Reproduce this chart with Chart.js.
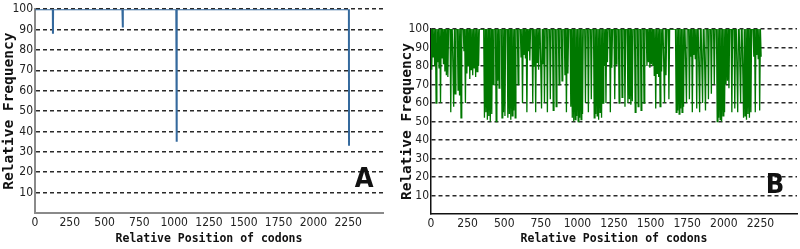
<!DOCTYPE html>
<html lang="en">
<head>
<meta charset="UTF-8">
<title>Relative frequency of codons</title>
<style>
  body { margin: 0; background: #fff; }
  .wrap { display: flex; width: 800px; height: 249px; }
  canvas { display: block; }
</style>
</head>
<body>
<div class="wrap">
  <canvas id="chartA" width="400" height="249"></canvas>
  <canvas id="chartB" width="400" height="249"></canvas>
</div>
<script src="https://cdn.jsdelivr.net/npm/chart.js@4.4.0/dist/chart.umd.min.js"></script>
<script>
var xTicks = [0, 250, 500, 750, 1000, 1250, 1500, 1750, 2000, 2250];
var yTicks = [10, 20, 30, 40, 50, 60, 70, 80, 90, 100];
var xTitle = 'Relative Position of codons';
var yTitle = 'Relative Frequency';

// panel A: flat at 100 with a few drops
var posA  = [0,   128, 129, 130, 628, 630, 632, 1015, 1016, 1018, 1020, 2255, 2256];
var freqA = [100, 100, 88,  100, 100, 91,  100, 100,  67,   35,   100,  100,  33];

// panel B: lowest value in each 10-codon window (100 = no drop)
var binB = 10;
var dipsB = [
  78, 85, 80, 60, 82, 79, 60, 84, 81, 77,
  75, 74,
  100, 55, 100, 58,
  65, 100, 67, 64,
  52, 100, 88, 60,
  76, 80, 73, 78, 75, 79, 74, 77, 80,
  100, 100, 100,
  52, 55, 51, 53, 50, 54,
  70, 100, 50, 72, 68, 100, 52,
  55, 53, 100, 52, 54, 51, 53, 56, 52,
  100, 70, 100,
  85, 60, 86, 84, 55, 88, 83, 100, 60,
  80, 55, 82, 78, 100, 57, 81,
  60, 100, 55, 100, 62, 100, 56, 100, 58,
  100, 70, 100, 72, 100,
  75, 55, 76, 100, 58,
  52, 50, 51, 53, 50, 52, 51, 54,
  100, 60, 100, 55, 100, 62, 100,
  52, 54, 53, 51, 55, 52, 60,
  80, 60, 82, 100, 55, 79, 100, 62, 81,
  100, 60, 100, 63, 100, 58, 100,
  60, 62, 59, 61,
  100, 55, 100, 58, 100, 56, 100, 60, 100,
  80, 82, 79, 81, 80,
  75, 57, 76, 74, 58, 77, 100, 60, 75,
  100, 62, 100,
  100, 100, 100,
  55, 56, 54, 57, 55, 58,
  100, 60, 100, 62,
  85, 55, 86, 84, 57,
  100, 55, 100, 60, 100, 56, 100, 62, 100,
  65, 100, 70, 100,
  50, 52, 51, 50, 53, 55,
  70, 72, 68,
  100, 55, 100, 57, 100, 55, 100, 60, 100,
  52, 53, 51, 54, 52, 55,
  100,
  85, 55, 86, 84, 56, 85
];

var pointsA = posA.map(function (p, i) { return { x: p, y: freqA[i] }; });
var pointsB = [];
dipsB.forEach(function (d, i) {
  pointsB.push({ x: i * binB, y: 100 });
  pointsB.push({ x: i * binB + binB / 2, y: d });
});

var tickFont = { family: '"Liberation Sans Narrow", "DejaVu Sans Condensed", sans-serif', size: 12 };
var titleFont = { family: '"DejaVu Sans Mono", monospace', size: 11.5, weight: 'bold' };

var panelLetter = {
  id: 'panelLetter',
  afterDraw: function (chart, args, opts) {
    var ctx = chart.ctx;
    var x = chart.scales.x.getPixelForValue(opts.atX);
    var y = chart.scales.y.getPixelForValue(opts.atY);
    ctx.save();
    ctx.font = 'bold 27px "DejaVu Sans Condensed", "DejaVu Sans", sans-serif';
    ctx.fillStyle = '#111';
    ctx.textAlign = 'center';
    ctx.textBaseline = 'middle';
    ctx.fillText(opts.text, x, y);
    ctx.restore();
  }
};

function plain(v) { return String(v); }

function makeChart(id, points, color, width, o) {
  return new Chart(document.getElementById(id), {
    type: 'line',
    data: {
      datasets: [{
        data: points,
        borderColor: color,
        borderWidth: width,
        pointRadius: 0,
        tension: 0,
        fill: false
      }]
    },
    options: {
      responsive: false,
      animation: false,
      events: [],
      layout: { padding: { top: o.top, right: o.right, left: 0, bottom: 0 } },
      plugins: {
        legend: { display: false },
        tooltip: { enabled: false },
        panelLetter: { text: o.letter, atX: o.letterX, atY: o.letterY }
      },
      scales: {
        x: {
          type: 'linear',
          min: 0,
          max: 2500,
          afterBuildTicks: function (s) { s.ticks = xTicks.map(function (v) { return { value: v }; }); },
          afterFit: function (s) { s.height = o.xh; },
          grid: { display: false },
          border: { display: true, color: o.axis, width: o.axisW },
          ticks: { font: tickFont, color: '#222', padding: -5, maxRotation: 0, autoSkip: false, callback: plain },
          title: { display: true, text: xTitle, font: titleFont, color: '#111', padding: { top: 0, bottom: 3 } }
        },
        y: {
          min: 0,
          max: 100,
          afterBuildTicks: function (s) { s.ticks = yTicks.map(function (v) { return { value: v }; }); },
          afterFit: function (s) { s.width = o.yw; },
          grid: { drawTicks: false, color: '#2a2a2a', lineWidth: 1.5 },
          border: { display: true, color: o.axis, width: o.axisW, dash: [4, 3] },
          ticks: { font: tickFont, color: '#222', padding: 2, callback: plain },
          title: { display: true, text: yTitle, font: { family: titleFont.family, size: 14.5, weight: 'bold', lineHeight: 1 }, color: '#111', padding: { top: o.ytPad, bottom: 0 } }
        }
      }
    },
    plugins: [panelLetter]
  });
}

makeChart('chartA', pointsA, '#34699d', 2,
  { top: 9, right: 17, xh: 36, yw: 35, ytPad: 2, axis: '#8a8a8a', axisW: 2, letter: 'A', letterX: 2365, letterY: 16 });
makeChart('chartB', pointsB, '#007800', 1.3,
  { top: 29, right: 3, xh: 35, yw: 31, ytPad: 0, axis: '#111', axisW: 1.5, letter: 'B', letterX: 2350, letterY: 15 });
</script>
</body>
</html>
